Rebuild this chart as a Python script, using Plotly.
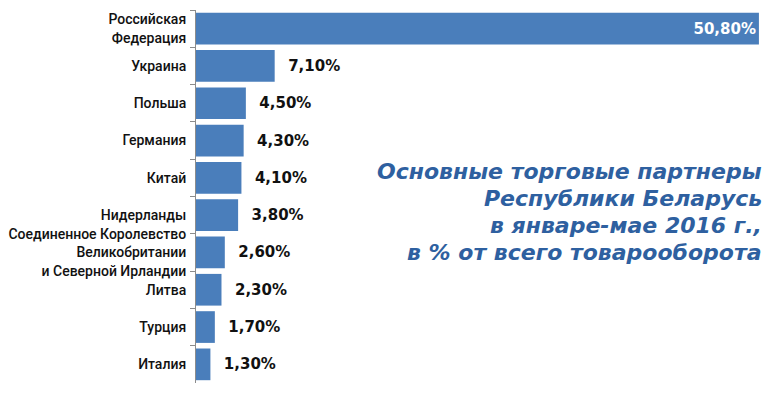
import plotly.graph_objects as go

countries = [
    "Российская<br>Федерация",
    "Украина",
    "Польша",
    "Германия",
    "Китай",
    "Нидерланды",
    "Соединенное Королевство<br>Великобритании<br>и Северной Ирландии",
    "Литва",
    "Турция",
    "Италия",
]
shares = [50.8, 7.1, 4.5, 4.3, 4.1, 3.8, 2.6, 2.3, 1.7, 1.3]
title_lines = [
    "Основные торговые партнеры",
    "Республики Беларусь",
    "в январе-мае 2016 г.,",
    "в % от всего товарооборота",
]

fmt = [f"{v:.2f}".replace(".", ",") + "%" for v in shares]
positions = ["inside" if v > 20 else "outside" for v in shares]
labels = [t if p == "inside" else "\u00a0\u00a0" + t for t, p in zip(fmt, positions)]

fig = go.Figure(go.Bar(
    x=shares, y=countries, orientation="h",
    marker=dict(color="#4A7EBB", line=dict(width=0)),
    text=labels, textposition=positions,
    insidetextanchor="end",
    insidetextfont=dict(color="white", size=15, family="DejaVu Sans", weight="bold"),
    outsidetextfont=dict(color="#111111", size=15, family="DejaVu Sans", weight="bold"),
    cliponaxis=False,
))

title_y = [0.566, 0.494, 0.422, 0.351]
annotations = [dict(
    xref="paper", yref="paper", x=0.99, y=yy,
    xanchor="right", yanchor="middle", align="right",
    text=line, showarrow=False,
    font=dict(family="DejaVu Sans", size=22, color="#2E60A0",
              weight="bold", style="italic"),
) for line, yy in zip(title_lines, title_y)]

fig.update_layout(
    width=770, height=394,
    margin=dict(l=196, r=0, t=10, b=11),
    paper_bgcolor="white", plot_bgcolor="white",
    bargap=0.15,
    showlegend=False,
    xaxis=dict(range=[0, 51.8], visible=False),
    yaxis=dict(
        autorange="reversed",
        showline=True, linecolor="#8C8C8C", linewidth=1,
        ticks="outside", ticklen=5, tickcolor="#8C8C8C",
        tickson="boundaries",
        ticklabelstandoff=6,
        tickfont=dict(family="Roboto", size=14, color="#111111", weight=500),
        showgrid=False,
    ),
    annotations=annotations,
)

fig.write_html("out.html")
